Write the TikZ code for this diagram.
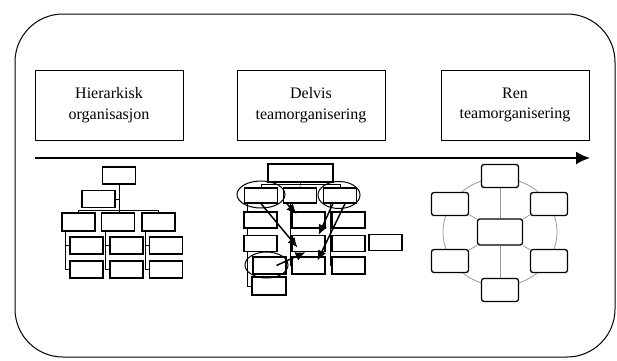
\documentclass[tikz,border=0pt]{standalone}
\usepackage{fontspec}
\setmainfont{Liberation Serif}
\usetikzlibrary{arrows.meta,positioning,shapes.geometric,backgrounds}
\tikzset{TitleBox/.style={draw, line width=1pt, minimum width=148pt,
    minimum height=70pt, align=center, font=\fontsize{16}{20.5}\selectfont}}
\tikzset{OrgBox/.style={draw, fill=white, line width=1.3pt, inner sep=0pt,
    minimum width=33pt, minimum height=17pt}}
\tikzset{RingBox/.style={OrgBox, rounded corners=2.5pt, minimum width=37pt,
    minimum height=23pt}}
\tikzset{Group/.style={draw, ellipse, line width=1pt, inner sep=0pt}}
\tikzset{Link/.style={line width=1.5pt, -{Latex[length=10pt,width=9pt]}}}
\tikzset{RingLine/.style={draw=black!40, line width=0.8pt}}

\begin{document}
\begin{tikzpicture}[x=1pt,y=-1pt]
  \useasboundingbox (0,0) rectangle (617,360);
  \draw[line width=1pt, rounded corners=48pt] (15,14) rectangle (615,357);
  \node[TitleBox] (hier) at (109,105) {Hierarkisk\\organisasjon};
  \node[TitleBox] (delvis) at (311,105) {Delvis\\teamorganisering};
  \node[TitleBox] (ren) at (515,105) {Ren\\teamorganisering};
  \coordinate (start) at (35,158);
  \coordinate (end) at (590,158);
  \draw[line width=2pt, -{Latex[length=14pt,width=13pt]}] (start) -- (end);

  % hierarkisk
  \node[OrgBox] (h0) at (119,175.5) {};
  \node[OrgBox] (h1) at (98.5,199) {};
  \foreach \i/\x in {1/78.5,2/118,3/158.5}
    \node[OrgBox, minimum height=18pt] (h3\i) at (\x,222) {};
  \foreach \i/\x in {1/86.5,2/126.5,3/166} {
    \node[OrgBox] (h4\i) at (\x,245.5) {};
    \node[OrgBox] (h5\i) at (\x,269.5) {};
  }
  \begin{scope}[on background layer, line width=1.3pt]
    \draw (h0.south) -- (h0.south |- h32.north);
    \draw (h1.east) -- (h1.east -| h0.south);
    \draw (h31.north) -- ++(0,-2) -| (h33.north);
    \foreach \i in {1,2,3}
      \draw ([xshift=4pt]h3\i.south west) |- (h5\i.west)
        ([xshift=4pt]h3\i.south west |- h4\i.west) -- (h4\i.west);
  \end{scope}

  % delvis team
  \node[OrgBox, minimum width=65pt, minimum height=18pt] (m0) at (300.5,173) {};
  \foreach \i/\x in {1/261,2/300,3/340}
    \node[OrgBox, minimum height=15pt] (m2\i) at (\x,195.5) {};
  \foreach \i/\x in {1/260.5,2/308.5,3/348.5} {
    \node[OrgBox, minimum height=16pt] (m3\i) at (\x,220) {};
    \node[OrgBox, minimum height=16pt] (m4\i) at (\x,243.5) {};
  }
  \node[OrgBox, minimum height=16pt] (m44) at (385.5,242.5) {};
  \node[OrgBox] (m51) at (269.5,265.5) {};
  \node[OrgBox] (m52) at (308.5,265.5) {};
  \node[OrgBox] (m53) at (348.5,265.5) {};
  \node[OrgBox, minimum width=34pt, minimum height=18pt] (m61) at (269,286) {};
  \begin{scope}[on background layer, line width=1.3pt]
    \draw (m0.south) -- (m22.north);
    \draw (m21.north) -- ++(0,-3) -| (m23.north);
    \draw ([xshift=3pt]m21.south west) |- (m61.west);
    \draw ([xshift=-10pt]m22.south) |- (m52.west);
    \draw ([xshift=-10pt]m23.south) |- (m53.west);
  \end{scope}
  \node[Group, minimum width=48pt, minimum height=27pt] (g1) at (261,194.5) {};
  \node[Group, minimum width=42pt, minimum height=27pt] (g2) at (339,195) {};
  \node[Group, minimum width=43pt, minimum height=26pt] (g3) at (266.5,265) {};
  \draw[Link] (m21.south) -- ([shift={(-11pt,-4pt)}]m42.center);
  \draw[Link] ([xshift=4pt]m22.south west) -- ([shift={(-12pt,6pt)}]m32.center);
  \draw[Link] ([xshift=10pt]m23.south west) -- ([xshift=-7pt]m42.north east);
  \draw[Link] ([xshift=5pt]m23.south) -- ([shift={(9pt,5pt)}]m52.center);
  \draw[Link] ([xshift=7pt]m51.center) -- ([xshift=-3pt]m42.south);

  % ren team
  \node[RingBox, minimum width=45pt, minimum height=26pt] (rc) at (500,232) {};
  \foreach \n/\x/\y in {1/500/176,2/549/204,3/549/261,4/500/290,5/450/261,6/450/204}
    \node[RingBox] (r\n) at (\x,\y) {};
  \begin{scope}[on background layer]
    \draw[RingLine] (rc) ellipse [x radius=57, y radius=54];
    \foreach \n in {1,...,6}
      \draw[RingLine] (rc) -- (r\n);
  \end{scope}
\end{tikzpicture}
\end{document}
